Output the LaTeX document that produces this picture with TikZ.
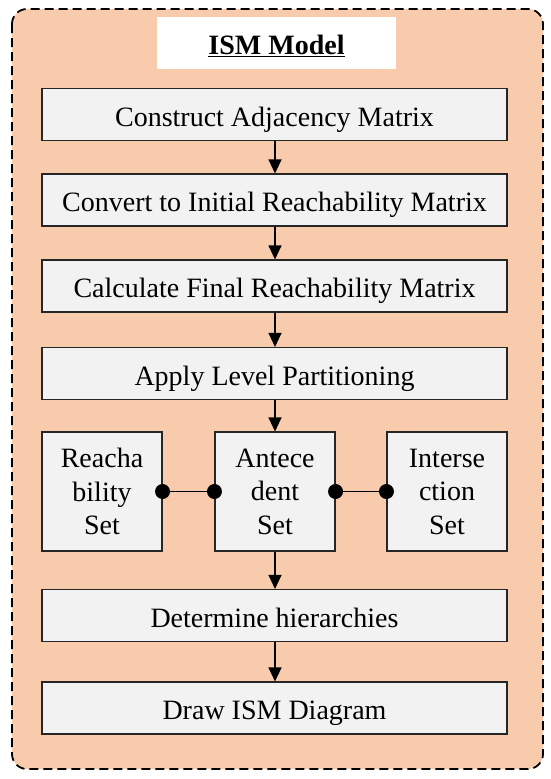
\documentclass[tikz,border=0pt]{standalone}
\usepackage{fontspec}
\setmainfont{Liberation Serif}
\usetikzlibrary{arrows.meta}
\definecolor{peach}{HTML}{F8CBAD}
\definecolor{boxgray}{HTML}{F2F2F2}
\begin{document}
\begin{tikzpicture}[x=1pt,y=-1pt,
  stepbox/.style={draw=black!85, line width=1.1pt, fill=boxgray, rectangle, inner sep=0pt,
    minimum width=465pt, minimum height=52pt, text height=29pt, text depth=6pt,
    font=\fontsize{28}{33}\selectfont},
  setbox/.style={draw=black!85, line width=1.1pt, fill=boxgray, rectangle, inner sep=0pt,
    minimum width=120pt, minimum height=119pt, align=center, font=\fontsize{28}{33.5}\selectfont},
  flow/.style={line width=1.1pt, -{Triangle[width=13pt,length=14pt]}},
  link/.style={line width=1.1pt},
  dot/.style={circle, fill=black, inner sep=0pt, minimum size=15pt}]
\useasboundingbox (0,0) rectangle (550,779);
\draw[fill=peach, dashed, dash pattern=on 9pt off 5pt, line width=1.8pt, rounded corners=15pt]
  (12,9) rectangle (543,769);
\node[fill=white, inner sep=0pt, minimum width=239pt, minimum height=52pt,
  text height=29pt, text depth=6pt] (title) at (276.5,43)
  {\fontsize{28}{32}\selectfont\bfseries\underline{ISM Model}};
\node[stepbox] (s1) at (274.5,114.5) {Construct Adjacency Matrix};
\node[stepbox] (s2) at (274.5,200) {Convert to Initial Reachability Matrix};
\node[stepbox] (s3) at (274.5,286) {Calculate Final Reachability Matrix};
\node[stepbox] (s4) at (274.5,373.5) {Apply Level Partitioning};
\node[setbox] (r) at (102,491.5) {Reacha\\bility\\Set};
\node[setbox] (a) at (275,491.5) {Antece\\dent\\Set};
\node[setbox] (i) at (447,491.5) {Interse\\ction\\Set};
\node[stepbox] (s5) at (274.5,615.5) {Determine hierarchies};
\node[stepbox] (s6) at (274.5,708) {Draw ISM Diagram};
\draw[flow] (s1.south -| a.center) -- (s2.north -| a.center);
\draw[flow] (s2.south -| a.center) -- (s3.north -| a.center);
\draw[flow] (s3.south -| a.center) -- (s4.north -| a.center);
\draw[flow] (s4.south -| a.center) -- (a.north);
\draw[flow] (a.south) -- (s5.north -| a.center);
\draw[flow] (s5.south -| a.center) -- (s6.north -| a.center);
\draw[link] (r.east) -- (a.west);
\draw[link] (a.east) -- (i.west);
\node[dot] (d1) at (r.east) {};
\node[dot] (d2) at (a.west) {};
\node[dot] (d3) at (a.east) {};
\node[dot] (d4) at (i.west) {};
\end{tikzpicture}
\end{document}
